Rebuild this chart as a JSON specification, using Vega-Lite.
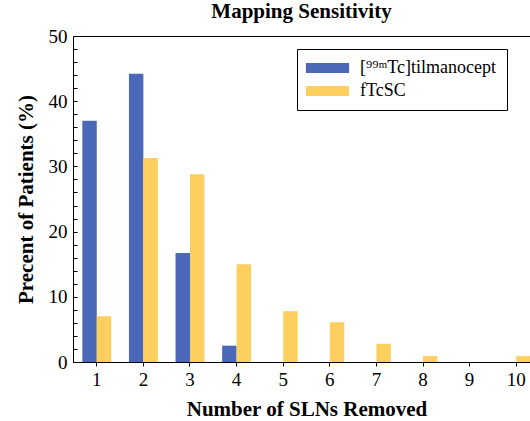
{
  "$schema": "https://vega.github.io/schema/vega-lite/v6.json",
  "width": 457,
  "height": 326,
  "autosize": {"type": "none"},
  "padding": {"left": 73, "top": 36, "right": 0, "bottom": 59},
  "background": "white",
  "title": {"text": "Mapping Sensitivity", "font": "Liberation Serif", "fontSize": 21, "fontWeight": "bold", "color": "black", "offset": 5, "anchor": "middle", "frame": "group"},
  "config": {
    "view": {"stroke": "black", "strokeWidth": 1},
    "axis": {"labelFont": "Liberation Serif", "titleFont": "Liberation Serif", "labelFontSize": 19, "titleFontSize": 21, "labelColor": "black", "titleColor": "black", "titleFontWeight": "bold", "domainColor": "black", "tickColor": "black", "grid": false}
  },
  "data": {"values": [
    {"n": 1, "series": "[⁹⁹ᵐTc]tilmanocept", "value": 37.0},
    {"n": 2, "series": "[⁹⁹ᵐTc]tilmanocept", "value": 44.2},
    {"n": 3, "series": "[⁹⁹ᵐTc]tilmanocept", "value": 16.7},
    {"n": 4, "series": "[⁹⁹ᵐTc]tilmanocept", "value": 2.5},
    {"n": 5, "series": "[⁹⁹ᵐTc]tilmanocept", "value": 0},
    {"n": 6, "series": "[⁹⁹ᵐTc]tilmanocept", "value": 0},
    {"n": 7, "series": "[⁹⁹ᵐTc]tilmanocept", "value": 0},
    {"n": 8, "series": "[⁹⁹ᵐTc]tilmanocept", "value": 0},
    {"n": 9, "series": "[⁹⁹ᵐTc]tilmanocept", "value": 0},
    {"n": 10, "series": "[⁹⁹ᵐTc]tilmanocept", "value": 0},
    {"n": 1, "series": "fTcSC", "value": 7.0},
    {"n": 2, "series": "fTcSC", "value": 31.3},
    {"n": 3, "series": "fTcSC", "value": 28.8},
    {"n": 4, "series": "fTcSC", "value": 15.0},
    {"n": 5, "series": "fTcSC", "value": 7.8},
    {"n": 6, "series": "fTcSC", "value": 6.1},
    {"n": 7, "series": "fTcSC", "value": 2.8},
    {"n": 8, "series": "fTcSC", "value": 0.9},
    {"n": 9, "series": "fTcSC", "value": 0},
    {"n": 10, "series": "fTcSC", "value": 0.9}
  ]},
  "mark": {"type": "bar", "clip": true},
  "encoding": {
    "x": {
      "field": "n", "type": "ordinal",
      "scale": {"range": [0, 467], "paddingInner": 0.38, "paddingOuter": 0.2},
      "axis": {"title": "Number of SLNs Removed", "labelAngle": 0, "tickSize": 4, "labelPadding": 4, "titlePadding": 9, "domainWidth": 1}
    },
    "xOffset": {"field": "series", "type": "nominal", "sort": ["[⁹⁹ᵐTc]tilmanocept", "fTcSC"]},
    "y": {
      "field": "value", "type": "quantitative",
      "scale": {"domain": [0, 50], "nice": false},
      "axis": {"title": "Precent of Patients (%)", "values": [0, 2, 4, 6, 8, 10, 12, 14, 16, 18, 20, 22, 24, 26, 28, 30, 32, 34, 36, 38, 40, 42, 44, 46, 48, 50], "labelExpr": "datum.value % 10 == 0 ? datum.label : ''", "tickSize": -4, "labelPadding": 10, "titlePadding": 12, "labelFlush": false}
    },
    "color": {
      "field": "series", "type": "nominal",
      "scale": {"domain": ["[⁹⁹ᵐTc]tilmanocept", "fTcSC"], "range": ["#4a67b8", "#fdcf5f"]},
      "legend": {"title": null, "orient": "none", "legendX": 224, "legendY": 13, "fillColor": "white", "strokeColor": "black", "padding": 10, "symbolType": "M-2.7,-0.62H2.7V0.62H-2.7Z", "symbolSize": 256, "symbolOffset": 11.5, "symbolStrokeWidth": 0, "labelFont": "Liberation Serif", "labelFontSize": 18, "labelColor": "black", "labelOffset": 23.5, "rowPadding": 5, "labelLimit": 300}
    }
  }
}
